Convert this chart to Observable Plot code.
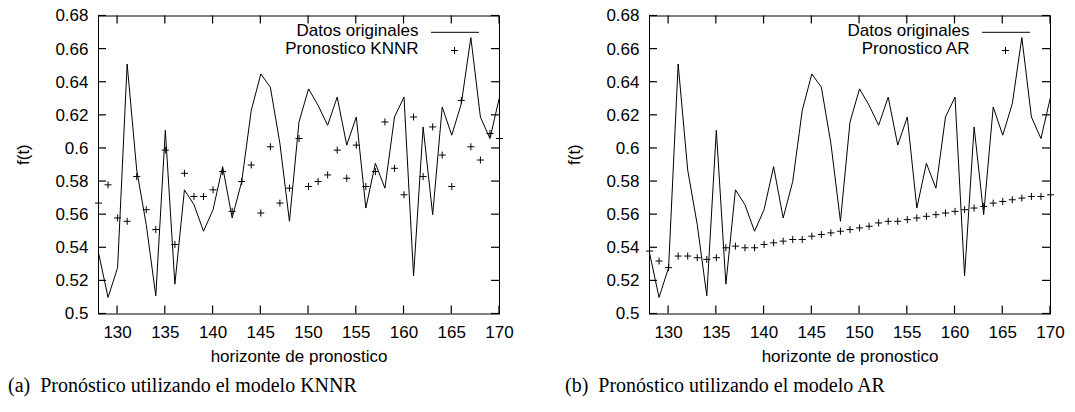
<!DOCTYPE html>
<html><head><meta charset="utf-8">
<script src="https://cdn.jsdelivr.net/npm/d3@7"></script>
<script src="https://cdn.jsdelivr.net/npm/@observablehq/plot@0.6"></script>
<style>
body{margin:0;background:#fff;width:1075px;height:412px;position:relative;overflow:hidden}
.panel{position:absolute;top:0;width:520px}
.cap{position:absolute;top:373px;font-family:"Liberation Serif","Times New Roman",serif;font-size:20px;line-height:24px;white-space:nowrap;color:#000}
</style></head><body>
<div id="a" class="panel" style="left:0"></div>
<div id="b" class="panel" style="left:551px"></div>
<div class="cap" style="left:8px">(a)&nbsp; Pronóstico utilizando el modelo KNNR</div>
<div class="cap" style="left:565px">(b)&nbsp; Pronóstico utilizando el modelo AR</div>
<script>
const horizon = [128,129,130,131,132,133,134,135,136,137,138,139,140,141,142,143,144,145,146,147,148,149,
                 150,151,152,153,154,155,156,157,158,159,160,161,162,163,164,165,166,167,168,169,170];
const original = [0.537,0.510,0.528,0.651,0.587,0.554,0.511,0.611,0.518,0.575,0.566,0.550,0.563,0.589,0.558,0.580,0.623,0.645,0.637,0.603,0.556,0.616,
                  0.636,0.626,0.614,0.631,0.602,0.619,0.564,0.591,0.576,0.619,0.631,0.523,0.613,0.560,0.625,0.608,0.627,0.667,0.619,0.606,0.631];
const knnr = [0.567,0.578,0.558,0.556,0.583,0.563,0.551,0.599,0.542,0.585,0.571,0.571,0.575,0.586,0.562,0.580,0.590,0.561,0.601,0.567,0.576,0.606,
              0.577,0.580,0.584,0.599,0.582,0.602,0.577,0.586,0.616,0.588,0.572,0.619,0.583,0.613,0.596,0.577,0.629,0.601,0.593,0.609,0.606];
const ar = [0.538,0.532,0.528,0.535,0.535,0.534,0.533,0.534,0.540,0.541,0.540,0.540,0.542,0.543,0.544,0.545,0.545,0.547,0.548,0.549,0.550,0.551,
            0.552,0.553,0.555,0.556,0.556,0.557,0.558,0.559,0.560,0.561,0.562,0.563,0.564,0.565,0.567,0.568,0.569,0.570,0.571,0.571,0.572];
const xTicks = [130,135,140,145,150,155,160,165,170];
const yTicks = [0.5,0.52,0.54,0.56,0.58,0.6,0.62,0.64,0.66,0.68];
const xLabel = "horizonte de pronostico";
const yLabel = "f(t)";
const seriesOriginal = "Datos originales";
const seriesKNNR = "Pronostico KNNR";
const seriesAR = "Pronostico AR";

const W = 520, H = 370, ML = 98, MR = 21, MT = 15.5, MB = 56.5, TK = 8, TW = 1.2;

function panel(pred, predLabel) {
  const rows = horizon.map((h, i) => ({h, orig: original[i], pred: pred[i]}));
  const chart = Plot.plot({
    width: W, height: H, marginLeft: ML, marginRight: MR, marginTop: MT, marginBottom: MB,
    style: {fontFamily: "'Liberation Sans', Arial, sans-serif", fontSize: "17px", color: "black", background: "white", overflow: "visible"},
    x: {domain: [128, 170]},
    y: {domain: [0.5, 0.68]},
    marks: [
      Plot.frame({stroke: "black", strokeWidth: 1}),
      Plot.axisX(xTicks, {anchor: "bottom", tickSize: 0, tickPadding: 12, label: null, tickFormat: d => String(d)}),
      Plot.axisY(yTicks, {anchor: "left", tickSize: 0, tickPadding: 10, label: null, tickFormat: d => String(d)}),
      Plot.line(rows, {x: "h", y: "orig", stroke: "black", strokeWidth: 1}),
      Plot.dot(rows, {x: "h", y: "pred", symbol: "plus", r: 2.4, stroke: "black", strokeWidth: 1}),
      Plot.text([xLabel], {frameAnchor: "bottom", lineAnchor: "middle", dy: 43}),
      Plot.text([yLabel], {frameAnchor: "left", lineAnchor: "middle", rotate: -90, dx: -75}),
      Plot.text([seriesOriginal], {frameAnchor: "top-right", textAnchor: "end", lineAnchor: "middle", dx: -81, dy: 15}),
      Plot.text([predLabel], {frameAnchor: "top-right", textAnchor: "end", lineAnchor: "middle", dx: -81, dy: 32.7}),
      Plot.dot([predLabel], {frameAnchor: "top-right", dx: -45, dy: 34.5, symbol: "plus", r: 2.4, stroke: "black", strokeWidth: 1})
    ]
  });
  const sx = chart.scale("x"), sy = chart.scale("y");
  const left = ML, right = W - MR, top = MT, bottom = H - MB;
  const g = d3.select(chart).append("g").attr("fill", "black").attr("stroke", "none");
  // inward ticks on all four sides (gnuplot-style mirrored ticks), drawn as thin filled rects
  for (const v of xTicks) {
    const px = sx.apply(v);
    g.append("rect").attr("x", px - TW / 2).attr("width", TW).attr("y", bottom - TK).attr("height", TK);
    g.append("rect").attr("x", px - TW / 2).attr("width", TW).attr("y", top).attr("height", TK);
  }
  for (const v of yTicks) {
    const py = sy.apply(v);
    g.append("rect").attr("x", left).attr("width", TK).attr("y", py - TW / 2).attr("height", TW);
    g.append("rect").attr("x", right - TK).attr("width", TK).attr("y", py - TW / 2).attr("height", TW);
  }
  // legend sample line
  g.append("rect").attr("x", right - 68).attr("width", 48).attr("y", top + 16.8 - 0.5).attr("height", 1);
  return chart;
}
document.getElementById("a").appendChild(panel(knnr, seriesKNNR));
document.getElementById("b").appendChild(panel(ar, seriesAR));
</script>
</body></html>
